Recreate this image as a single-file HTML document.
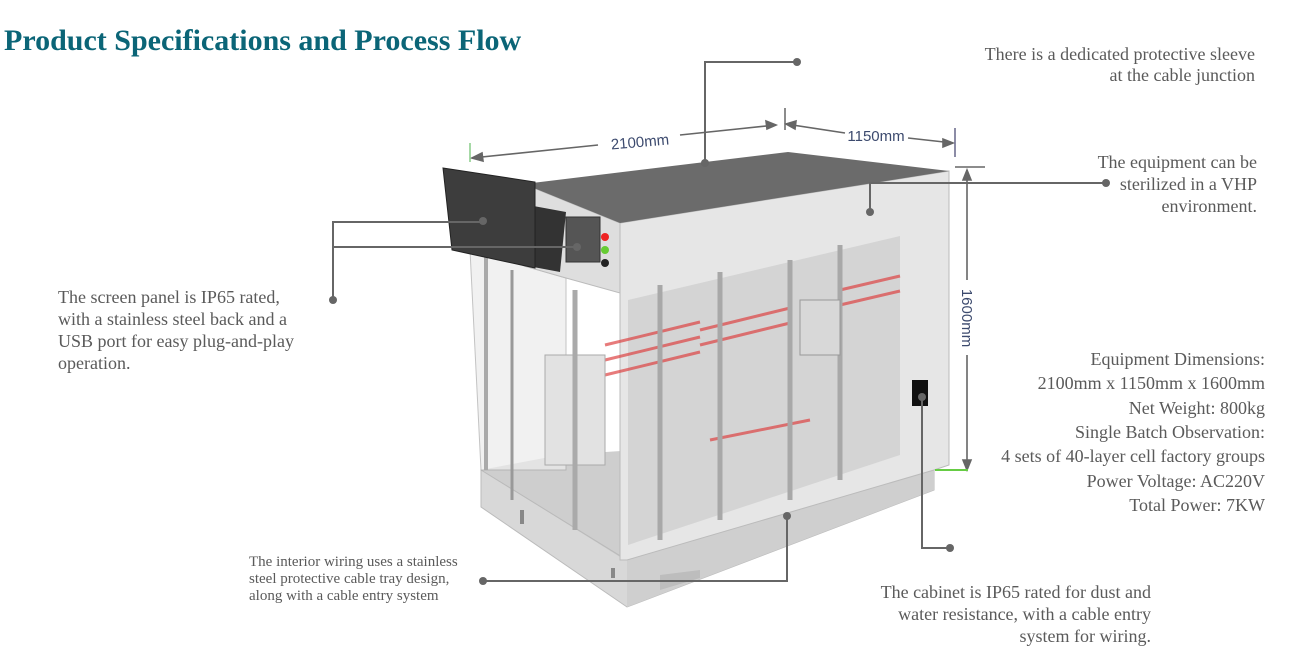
<!DOCTYPE html>
<html><head><meta charset="utf-8"><style>
html,body{margin:0;padding:0;background:#fff;width:1294px;height:668px;overflow:hidden}
svg{display:block}
text{font-family:"Liberation Serif",serif;fill:#5a5a5a;font-size:18px}
.dim{font-family:"Liberation Sans",sans-serif;fill:#3c4a6e;font-size:15px}
</style></head><body>
<svg width="1294" height="668" viewBox="0 0 1294 668" xmlns="http://www.w3.org/2000/svg">
<text x="4" y="50" style="font-size:30px;font-weight:bold;fill:#0b6577">Product Specifications and Process Flow</text>

<!-- base plinth -->
<polygon points="481,470 481,507 627,607 934,490 934,455 627,560" fill="#d8d8d8" stroke="#bbb"/>
<polygon points="627,560 627,607 934,490 934,455" fill="#cfcfcf"/>
<polygon points="481,470 625,560 930,455 790,440 560,455" fill="#b9b9b9" opacity=".7"/>
<polygon points="660,590 700,578 700,570 660,575" fill="#bdbdbd"/>
<rect x="520" y="510" width="4" height="14" fill="#888"/><rect x="611" y="568" width="4" height="10" fill="#888"/>
<!-- right face body -->
<polygon points="620,223 949,171 949,465 934,470 627,560 620,560" fill="#e6e6e6" stroke="#bbb"/>
<polygon points="628,300 900,236 900,455 628,545" fill="#cfcfcf" opacity=".8"/>
<g stroke="#d44" stroke-width="3" opacity=".7">
<line x1="605" y1="345" x2="700" y2="322"/><line x1="605" y1="360" x2="700" y2="337"/>
<line x1="605" y1="375" x2="700" y2="352"/><line x1="700" y1="330" x2="790" y2="308"/>
<line x1="700" y1="345" x2="790" y2="323"/><line x1="840" y1="290" x2="900" y2="276"/>
<line x1="840" y1="305" x2="900" y2="291"/><line x1="710" y1="440" x2="810" y2="420"/>
</g>
<g stroke="#a8a8a8" stroke-width="5">
<line x1="720" y1="272" x2="720" y2="520"/><line x1="840" y1="245" x2="840" y2="480"/>
<line x1="790" y1="260" x2="790" y2="500"/><line x1="660" y1="285" x2="660" y2="540"/>
</g>
<rect x="800" y="300" width="40" height="55" fill="#d8d8d8" stroke="#999"/>
<rect x="912" y="380" width="16" height="26" fill="#111"/>
<polygon points="470,250 566,278 566,470 481,470" fill="#ececec" opacity=".7" stroke="#aaa"/>
<line x1="486" y1="255" x2="486" y2="470" stroke="#aaa" stroke-width="4"/>
<line x1="512" y1="270" x2="512" y2="500" stroke="#999" stroke-width="3"/>
<rect x="545" y="355" width="60" height="110" fill="#e2e2e2" stroke="#aaa"/>
<line x1="575" y1="290" x2="575" y2="530" stroke="#aaa" stroke-width="5"/>
<polygon points="524,184 620,223 620,293 566,278 524,266" fill="#dedede" stroke="#bbb"/>
<rect x="566" y="217" width="34" height="45" fill="#555" stroke="#333"/>
<circle cx="605" cy="237" r="4" fill="#e22"/><circle cx="605" cy="250" r="4" fill="#6c3"/><circle cx="605" cy="263" r="4" fill="#222"/>
<polygon points="528,205 566,212 560,272 528,266" fill="#333"/>
<polygon points="524,184 788,152 949,171 620,223" fill="#6b6b6b"/>
<polygon points="443,168 535,182 535,268 452,250" fill="#3d3d3d" stroke="#222"/>

<!-- dimension arrows -->
<g stroke="#666" stroke-width="1.6" fill="#666">
<line x1="472" y1="158" x2="598" y2="145"/><line x1="680" y1="135" x2="776" y2="125"/>
<polygon points="472,158 482,153 483,161"/><polygon points="776,125 766,121 767,129"/>
<line x1="786" y1="124" x2="845" y2="133"/><line x1="908" y1="138" x2="953" y2="143"/>
<polygon points="786,124 796,121 795,129"/><polygon points="953,143 943,139 943,147"/>
<line x1="967" y1="170" x2="967" y2="280"/><line x1="967" y1="355" x2="967" y2="470"/>
<polygon points="967,170 963,180 971,180"/><polygon points="967,470 963,460 971,460"/>
</g>
<line x1="785" y1="108" x2="785" y2="130" stroke="#666" stroke-width="1.5"/>
<line x1="470" y1="143" x2="470" y2="162" stroke="#8c8" stroke-width="1.5"/>
<line x1="955" y1="128" x2="955" y2="157" stroke="#668" stroke-width="1.5"/>
<line x1="955" y1="167" x2="985" y2="167" stroke="#666" stroke-width="1.5"/>
<line x1="935" y1="470" x2="968" y2="470" stroke="#6c4" stroke-width="2"/>
<text class="dim" x="640" y="147" text-anchor="middle" transform="rotate(-5 640 142)">2100mm</text>
<text class="dim" x="876" y="141" text-anchor="middle">1150mm</text>
<text class="dim" x="0" y="0" text-anchor="middle" transform="translate(962,318) rotate(90)">1600mm</text>

<g stroke="#666" stroke-width="2" fill="none">
<polyline points="797,62 705,62 705,163"/>
<polyline points="333,300 333,222 483,222"/>
<polyline points="333,247 577,247"/>
<polyline points="1106,183 870,183 870,212"/>
<polyline points="922,397 922,548 950,548"/>
<polyline points="483,581 787,581 787,516"/>
</g>
<g fill="#666">
<circle cx="797" cy="62" r="4"/><circle cx="705" cy="163" r="4"/>
<circle cx="333" cy="300" r="4"/><circle cx="483" cy="221" r="4"/><circle cx="577" cy="247" r="4"/>
<circle cx="1106" cy="183" r="4"/><circle cx="870" cy="212" r="4"/>
<circle cx="922" cy="397" r="4"/><circle cx="950" cy="548" r="4"/>
<circle cx="483" cy="581" r="4"/><circle cx="787" cy="516" r="4"/>
</g>

<g text-anchor="end">
<text x="1255" y="60">There is a dedicated protective sleeve</text>
<text x="1255" y="81">at the cable junction</text>
<text x="1257" y="168">The equipment can be</text>
<text x="1257" y="190">sterilized in a VHP</text>
<text x="1257" y="212">environment.</text>
<text x="1265" y="365">Equipment Dimensions:</text>
<text x="1265" y="389">2100mm x 1150mm x 1600mm</text>
<text x="1265" y="414">Net Weight: 800kg</text>
<text x="1265" y="438">Single Batch Observation:</text>
<text x="1265" y="462">4 sets of 40-layer cell factory groups</text>
<text x="1265" y="487">Power Voltage: AC220V</text>
<text x="1265" y="511">Total Power: 7KW</text>
<text x="1151" y="598">The cabinet is IP65 rated for dust and</text>
<text x="1151" y="620">water resistance, with a cable entry</text>
<text x="1151" y="642">system for wiring.</text>
</g>
<text x="58" y="303">The screen panel is IP65 rated,</text>
<text x="58" y="325">with a stainless steel back and a</text>
<text x="58" y="347">USB port for easy plug-and-play</text>
<text x="58" y="369">operation.</text>
<text x="249" y="566" style="font-size:15px">The interior wiring uses a stainless</text>
<text x="249" y="583" style="font-size:15px">steel protective cable tray design,</text>
<text x="249" y="600" style="font-size:15px">along with a cable entry system</text>
</svg>
</body></html>
